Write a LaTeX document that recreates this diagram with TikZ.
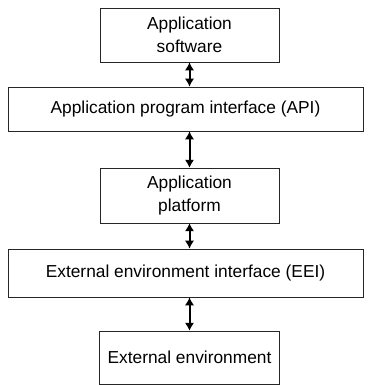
\documentclass[tikz,border=0pt]{standalone}
\usepackage{fontspec}
\setmainfont{Liberation Sans}
\usetikzlibrary{arrows.meta}

\begin{document}
\begin{tikzpicture}[x=0.75pt,y=-0.75pt,
  layer/.style={draw=black!85,line width=0.5pt,align=center,inner sep=0pt,
    font=\fontsize{13}{17}\selectfont},
  link/.style={{Latex[length=6pt,width=7pt]}-{Latex[length=6pt,width=7pt]},line width=1.5pt}]
\useasboundingbox (0,0) rectangle (371,385);
\node [layer,minimum width=134pt,minimum height=40.5pt] (sw) at (189.5,35) {Application\\software};
\node [layer,minimum width=266pt,minimum height=33pt] (api) at (185.5,109) {Application program interface (API)};
\node [layer,minimum width=134pt,minimum height=41pt] (pf) at (189.5,195.5) {Application\\platform};
\node [layer,minimum width=266pt,minimum height=36pt] (eei) at (185.5,273) {External environment interface (EEI)};
\node [layer,minimum width=135pt,minimum height=39.5pt] (env) at (189.5,357.5) {External environment};
\draw [link] (sw.south) -- (sw.south|-api.north);
\draw [link] (sw.south|-api.south) -- (pf.north);
\draw [link] (pf.south) -- (pf.south|-eei.north);
\draw [link] (pf.south|-eei.south) -- (env.north);
\end{tikzpicture}
\end{document}
